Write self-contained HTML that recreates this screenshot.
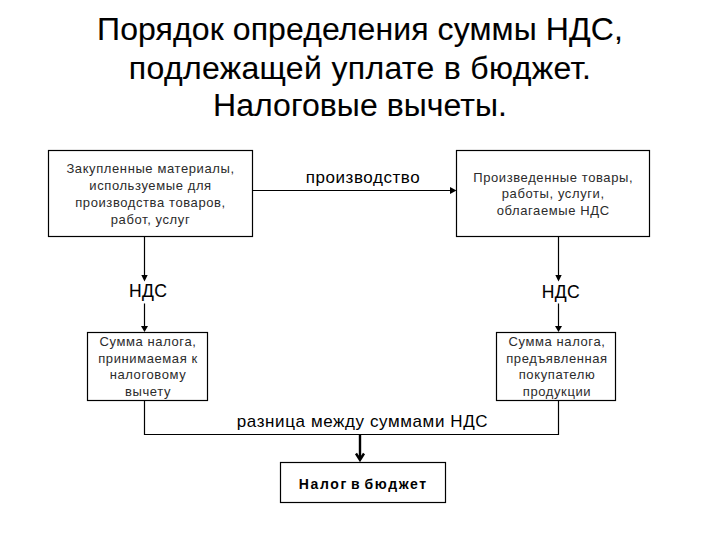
<!DOCTYPE html>
<html><head><meta charset="utf-8"><style>
html,body{margin:0;padding:0;background:#fff;}
body{width:720px;height:540px;position:relative;overflow:hidden;font-family:"Liberation Sans",sans-serif;color:#000;}
.t{position:absolute;width:600px;text-align:center;white-space:nowrap;}
</style></head><body>
<svg width="720" height="540" viewBox="0 0 720 540" style="position:absolute;left:0;top:0">
<g fill="none" stroke="#000" stroke-width="1.2">
<rect x="48.5" y="150.5" width="204" height="86"/>
<rect x="456.5" y="150.5" width="193" height="86"/>
<rect x="87.5" y="332.5" width="120" height="68"/>
<rect x="496.5" y="332.5" width="119" height="68"/>
<rect x="280.5" y="462.5" width="165" height="40"/>
<path d="M253 190.5H451"/>
<path d="M144.5 237V276M144.5 303.5V327"/>
<path d="M558.5 237V276M558.5 303.5V327"/>
<path d="M144.5 401V434.5H558.5V401"/>
</g>
<g fill="#000" stroke="none">
<path d="M450 187L456.5 190.5L450 194Z"/>
<path d="M141.3 275H147.7L144.5 281.5Z"/>
<path d="M141 326H148L144.5 332Z"/>
<path d="M555.3 275H561.7L558.5 281.5Z"/>
<path d="M555 326H562L558.5 332Z"/>
</g>
<path d="M360 435V460M356 453.5L360 460L364 453.5" fill="none" stroke="#000" stroke-width="2.4"/>
</svg>
<div class="t" style="left:60px;top:12.91px;font-size:32px;line-height:32px;font-weight:400;color:#000;letter-spacing:0.1px;word-spacing:0px;-webkit-text-stroke:0.1px #000">Порядок определения суммы НДС,</div>
<div class="t" style="left:60px;top:51.91px;font-size:32px;line-height:32px;font-weight:400;color:#000;letter-spacing:0.33px;word-spacing:0px;-webkit-text-stroke:0.1px #000">подлежащей уплате в бюджет.</div>
<div class="t" style="left:60px;top:89.41px;font-size:32px;line-height:32px;font-weight:400;color:#000;letter-spacing:0.05px;word-spacing:0px;-webkit-text-stroke:0.1px #000">Налоговые вычеты.</div>
<div class="t" style="left:-149.5px;top:162.00px;font-size:13px;line-height:13px;font-weight:400;color:#2b2b2b;letter-spacing:0.6px;word-spacing:0px;-webkit-text-stroke:0px #000">Закупленные материалы,</div>
<div class="t" style="left:-149.5px;top:178.50px;font-size:13px;line-height:13px;font-weight:400;color:#2b2b2b;letter-spacing:0.6px;word-spacing:0px;-webkit-text-stroke:0px #000">используемые для</div>
<div class="t" style="left:-149.5px;top:195.50px;font-size:13px;line-height:13px;font-weight:400;color:#2b2b2b;letter-spacing:0.6px;word-spacing:0px;-webkit-text-stroke:0px #000">производства товаров,</div>
<div class="t" style="left:-149.5px;top:213.00px;font-size:13px;line-height:13px;font-weight:400;color:#2b2b2b;letter-spacing:0.6px;word-spacing:0px;-webkit-text-stroke:0px #000">работ, услуг</div>
<div class="t" style="left:253.20000000000005px;top:171.00px;font-size:13px;line-height:13px;font-weight:400;color:#2b2b2b;letter-spacing:0.6px;word-spacing:0px;-webkit-text-stroke:0px #000">Произведенные товары,</div>
<div class="t" style="left:253.20000000000005px;top:187.30px;font-size:13px;line-height:13px;font-weight:400;color:#2b2b2b;letter-spacing:0.6px;word-spacing:0px;-webkit-text-stroke:0px #000">работы, услуги,</div>
<div class="t" style="left:253.20000000000005px;top:203.50px;font-size:13px;line-height:13px;font-weight:400;color:#2b2b2b;letter-spacing:0.6px;word-spacing:0px;-webkit-text-stroke:0px #000">облагаемые НДС</div>
<div class="t" style="left:-152px;top:334.50px;font-size:13px;line-height:13px;font-weight:400;color:#2b2b2b;letter-spacing:0.6px;word-spacing:0px;-webkit-text-stroke:0px #000">Сумма налога,</div>
<div class="t" style="left:-152px;top:351.50px;font-size:13px;line-height:13px;font-weight:400;color:#2b2b2b;letter-spacing:0.6px;word-spacing:0px;-webkit-text-stroke:0px #000">принимаемая к</div>
<div class="t" style="left:-152px;top:368.30px;font-size:13px;line-height:13px;font-weight:400;color:#2b2b2b;letter-spacing:0.6px;word-spacing:0px;-webkit-text-stroke:0px #000">налоговому</div>
<div class="t" style="left:-152px;top:385.00px;font-size:13px;line-height:13px;font-weight:400;color:#2b2b2b;letter-spacing:0.6px;word-spacing:0px;-webkit-text-stroke:0px #000">вычету</div>
<div class="t" style="left:257px;top:334.50px;font-size:13px;line-height:13px;font-weight:400;color:#2b2b2b;letter-spacing:0.6px;word-spacing:0px;-webkit-text-stroke:0px #000">Сумма налога,</div>
<div class="t" style="left:257px;top:351.50px;font-size:13px;line-height:13px;font-weight:400;color:#2b2b2b;letter-spacing:0.6px;word-spacing:0px;-webkit-text-stroke:0px #000">предъявленная</div>
<div class="t" style="left:257px;top:368.30px;font-size:13px;line-height:13px;font-weight:400;color:#2b2b2b;letter-spacing:0.6px;word-spacing:0px;-webkit-text-stroke:0px #000">покупателю</div>
<div class="t" style="left:257px;top:385.00px;font-size:13px;line-height:13px;font-weight:400;color:#2b2b2b;letter-spacing:0.6px;word-spacing:0px;-webkit-text-stroke:0px #000">продукции</div>
<div class="t" style="left:63px;top:168.91px;font-size:17px;line-height:17px;font-weight:400;color:#000;letter-spacing:0.55px;word-spacing:0px;-webkit-text-stroke:0px #000">производство</div>
<div class="t" style="left:-151.8px;top:283.09px;font-size:17.5px;line-height:17.5px;font-weight:400;color:#000;letter-spacing:0.4px;word-spacing:0px;-webkit-text-stroke:0.1px #000">НДС</div>
<div class="t" style="left:260.79999999999995px;top:284.09px;font-size:17.5px;line-height:17.5px;font-weight:400;color:#000;letter-spacing:0.4px;word-spacing:0px;-webkit-text-stroke:0.1px #000">НДС</div>
<div class="t" style="left:62.5px;top:412.81px;font-size:17px;line-height:17px;font-weight:400;color:#000;letter-spacing:0.6px;word-spacing:0px;-webkit-text-stroke:0px #000">разница между суммами НДС</div>
<div class="t" style="left:63.30000000000001px;top:477.05px;font-size:14px;line-height:14px;font-weight:700;color:#000;letter-spacing:1.6px;word-spacing:-2.2px;-webkit-text-stroke:0px #000">Налог в бюджет</div>
</body></html>
